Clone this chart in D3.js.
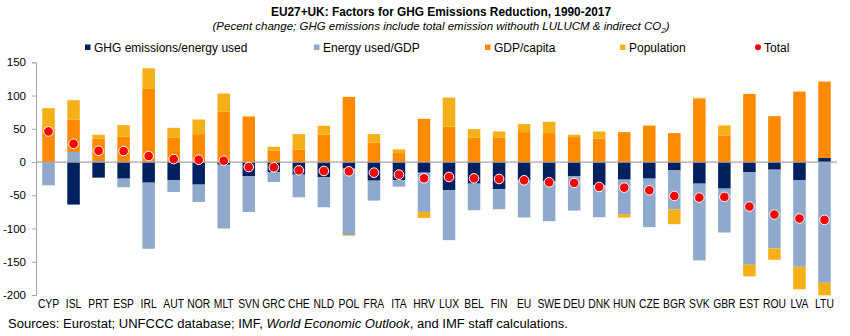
<!DOCTYPE html>
<html>
<head>
<meta charset="utf-8">
<script src="https://cdn.jsdelivr.net/npm/d3@7"></script>
<style>
  body { margin: 0; background: #fff; }
  svg text { font-family: "Liberation Sans", Arial, sans-serif; fill: #000; }
</style>
</head>
<body>
<svg class="GhgChart" width="850" height="336"></svg>
<script>
// country codes, left to right
var countries = ["CYP","ISL","PRT","ESP","IRL","AUT","NOR","MLT","SVN","GRC","CHE","NLD","POL","FRA","ITA","HRV",
                 "LUX","BEL","FIN","EU","SWE","DEU","DNK","HUN","CZE","BGR","SVK","GBR","EST","ROU","LVA","LTU"];

// contributions, percent change 1990-2017
var ghgPerEnergy = [0,-64,-23.5,-25,-31,-27,-34,-4,-21,-15,-19,-23,-10,-28,-27.5,-16,
                    -42.5,-32.5,-41,-27.5,-29,-21,-35,-26.5,-25,-12.5,-32.5,-40,-15,-11.5,-27.5,6];
var energyPerGdp = [-35,15,1.5,-13,-99.5,-18,-26,-96,-54,-15,-34,-45,-100,-30,-9.5,-59,
                    -75,-40,-30,-56,-60,-52,-48,-52,-73,-59,-115.5,-66,-139.5,-118.5,-130,-181.5];
var gdpPerCapita = [50,49,34,38.5,110,37,42,76,68,17,19,41,98,29,13.5,65,
                    53,36.5,36.5,45,43.5,37.5,35,45,54.5,43.5,95.5,40,102.5,69,106,115];
var population   = [31,29,5.5,17,31,14.5,22,27,1,6,23,13.5,-1,13,5.5,-9,
                    44,13,9.5,12,17,3.5,11,-5,0.7,-22,1,15,-17.5,-17,-34,-19];
var total        = [46,27.5,17,16.5,9,4.5,3.5,2,-7.5,-8,-12.5,-13.5,-14,-16,-19,-24.5,
                    -22.5,-24.5,-25.5,-27.5,-30.5,-31.5,-37.5,-38.5,-42.5,-51,-53.5,-52.5,-67,-79,-85,-87];

var seriesKeys  = ["ghg","energy","gdp","pop"];
var seriesNames = ["GHG emissions/energy used","Energy used/GDP","GDP/capita","Population"];
var seriesColor = {"ghg":"#002060","energy":"#8EA9CB","gdp":"#FF8A00","pop":"#F5AF19"};
var yTicks = [150,100,50,0,-50,-100,-150,-200];

var svg = d3.select(".GhgChart");
var margin = {left: 36, right: 13, top: 62.3, bottom: 41};
var width = 850 - margin.left - margin.right;

// squeeze text horizontally to mimic a condensed face
function narrow(sel, factor)
{
    sel.each(function(){
        var w = this.getComputedTextLength();
        d3.select(this)
            .attr("textLength", w * factor)
            .attr("lengthAdjust", "spacingAndGlyphs");
    });
}

var rows = countries.map((c, i) => ({
    country: c,
    ghg: ghgPerEnergy[i],
    energy: energyPerGdp[i],
    gdp: gdpPerCapita[i],
    pop: population[i],
    total: total[i]
}));

var xScale = d3.scaleBand()
    .domain(countries)
    .range([margin.left, margin.left + width])
    .paddingInner(0.5)
    .paddingOuter(0.25);

var yScale = d3.scaleLinear()
    .domain([-200, 150])
    .range([295, margin.top]);

// title block
var title = svg.append("text")
    .attr("x", 441).attr("y", 16)
    .attr("text-anchor", "middle")
    .style("font-size", "12.5px")
    .style("font-weight", "bold")
    .text("EU27+UK: Factors for GHG Emissions Reduction, 1990-2017");
title.attr("textLength", 340).attr("lengthAdjust", "spacingAndGlyphs");

var sub = svg.append("text")
    .attr("x", 441).attr("y", 30)
    .attr("text-anchor", "middle")
    .style("font-size", "11.5px")
    .style("font-style", "italic");
sub.append("tspan").text("(Pecent change; GHG emissions include total emission withouth LULUCM & indirect CO");
sub.append("tspan").attr("dy", 3).style("font-size", "8px").text("2");
sub.append("tspan").attr("dy", -3).text(")");

// legend
var legendX = [88, 317, 488, 623];
seriesKeys.forEach((k, i) => {
    svg.append("rect")
        .attr("x", legendX[i] - 3).attr("y", 44.5)
        .attr("width", 5.5).attr("height", 5.5)
        .attr("fill", seriesColor[k]);
    svg.append("text")
        .attr("x", legendX[i] + 6).attr("y", 51.5)
        .style("font-size", "12px")
        .text(seriesNames[i]);
});
svg.append("circle").attr("cx", 758).attr("cy", 47.3).attr("r", 3).attr("fill", "#FF0000");
svg.append("text").attr("x", 764).attr("y", 51.5).style("font-size", "12px").text("Total");

// y axis
var yAxis = svg.append("g")
    .attr("transform", `translate(${margin.left},0)`)
    .call(d3.axisLeft(yScale).tickValues(yTicks).tickSize(4).tickPadding(6).tickFormat(d3.format("d")));
yAxis.select(".domain").attr("stroke", "#A6A6A6");
yAxis.selectAll(".tick line").attr("stroke", "#A6A6A6");
yAxis.selectAll(".tick text")
    .style("font-family", "'Liberation Sans', Arial, sans-serif")
    .style("font-size", "11.5px")
    .attr("fill", "#000");
yAxis.selectAll(".tick text").text(d => d < 0 ? "-" + Math.abs(d) : d);

// stacked bars, positives up and negatives down
var stacked = d3.stack()
    .keys(seriesKeys)
    .offset(d3.stackOffsetDiverging)(rows);

svg.append("g").selectAll("g")
    .data(stacked)
    .join("g")
    .attr("fill", d => seriesColor[d.key])
    .selectAll("rect")
    .data(d => d)
    .join("rect")
    .attr("x", d => xScale(d.data.country))
    .attr("width", xScale.bandwidth())
    .attr("y", d => yScale(Math.max(d[0], d[1])))
    .attr("height", d => Math.abs(yScale(d[0]) - yScale(d[1])));

// zero line
svg.append("line")
    .attr("x1", margin.left).attr("x2", margin.left + width)
    .attr("y1", yScale(0)).attr("y2", yScale(0))
    .attr("stroke", "#A6A6A6").attr("stroke-width", 1.2);

// total markers
svg.append("g").selectAll("circle")
    .data(rows)
    .join("circle")
    .attr("cx", d => xScale(d.country) + xScale.bandwidth() / 2)
    .attr("cy", d => yScale(d.total))
    .attr("r", 4.8)
    .attr("fill", "#FF0000")
    .attr("stroke", "#FFFFFF")
    .attr("stroke-width", 1);

// category labels
svg.append("g").selectAll("text")
    .data(countries)
    .join("text")
    .attr("x", d => xScale(d) + xScale.bandwidth() / 2)
    .attr("y", 307.5)
    .attr("text-anchor", "middle")
    .style("font-size", "12px")
    .text(d => d)
    .call(narrow, 0.86);

// source note
var note = svg.append("text")
    .attr("x", 8).attr("y", 328)
    .style("font-size", "12px");
note.append("tspan").text("Sources: Eurostat; UNFCCC database; IMF, ");
note.append("tspan").style("font-style", "italic").text("World Economic Outlook");
note.append("tspan").text(", and IMF staff calculations.");
note.attr("textLength", 560).attr("lengthAdjust", "spacingAndGlyphs");
</script>
</body>
</html>
